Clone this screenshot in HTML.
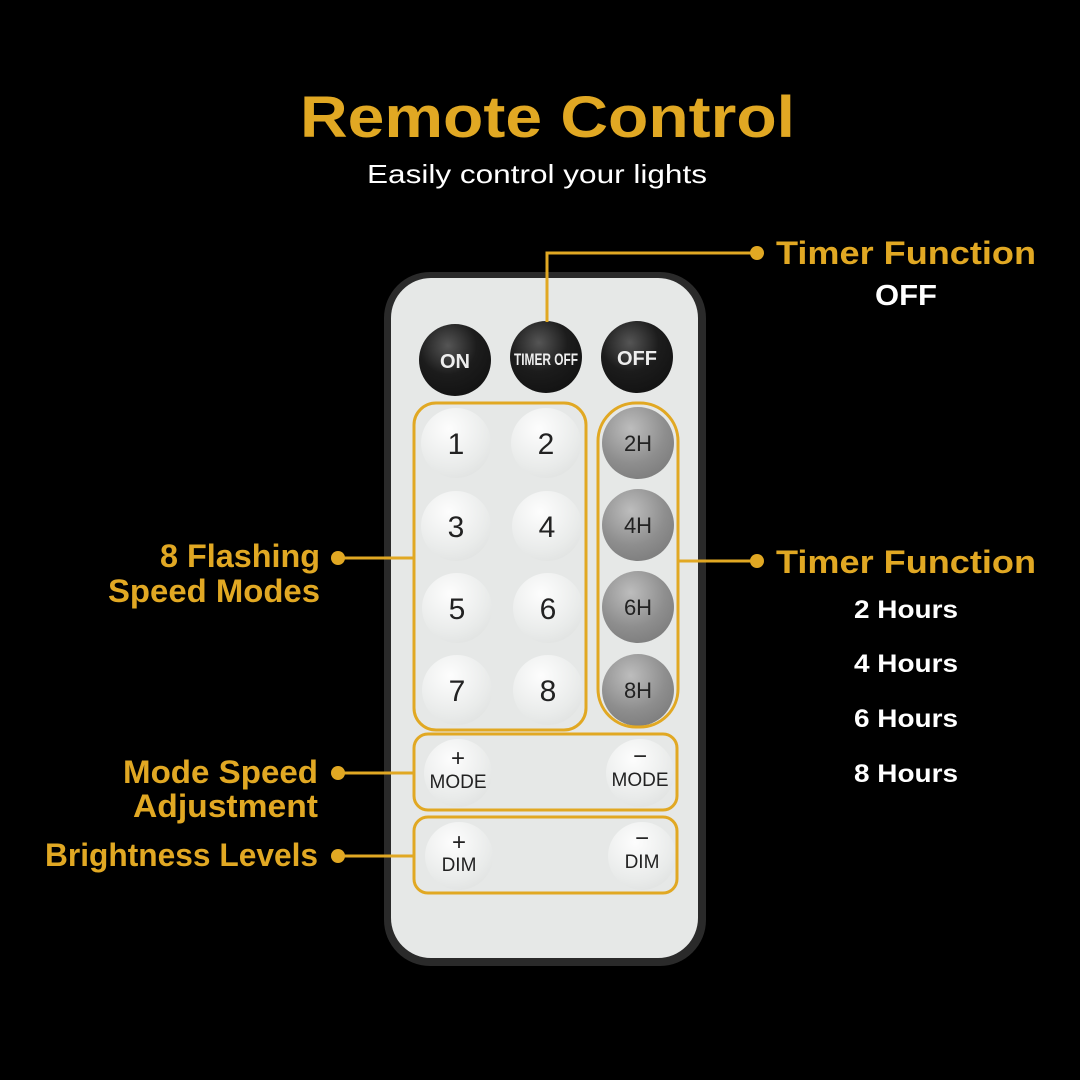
<!DOCTYPE html>
<html><head><meta charset="utf-8"><style>
html,body{margin:0;padding:0;background:#000;width:1080px;height:1080px;overflow:hidden}
svg{display:block}
</style></head><body>
<svg width="1080" height="1080" viewBox="0 0 1080 1080" xmlns="http://www.w3.org/2000/svg" font-family="Liberation Sans, sans-serif">
<defs>
<radialGradient id="dk" cx="0.4" cy="0.3" r="0.8"><stop offset="0" stop-color="#555"/><stop offset="0.5" stop-color="#1c1c1c"/><stop offset="1" stop-color="#111"/></radialGradient>
<radialGradient id="gr" cx="0.4" cy="0.3" r="0.8"><stop offset="0" stop-color="#bdbdbd"/><stop offset="0.6" stop-color="#8e8e8e"/><stop offset="1" stop-color="#7a7a7a"/></radialGradient>
<radialGradient id="wh" cx="0.4" cy="0.3" r="0.8"><stop offset="0" stop-color="#fdfdfd"/><stop offset="0.7" stop-color="#e9ebea"/><stop offset="1" stop-color="#dfe1e0"/></radialGradient>
</defs>
<rect width="1080" height="1080" fill="#000"/>
<text x="300" y="137" font-size="58" font-weight="bold" fill="#e1a823" textLength="495" lengthAdjust="spacingAndGlyphs">Remote Control</text>
<text x="367" y="183" font-size="26" fill="#fff" textLength="340" lengthAdjust="spacingAndGlyphs">Easily control your lights</text>
<!-- remote -->
<rect x="384" y="272" width="322" height="694" rx="46" fill="#2a2a2a"/>
<rect x="391" y="278" width="307" height="680" rx="40" fill="#e6e8e7"/>
<g font-weight="bold" text-anchor="middle">
<circle cx="455" cy="360" r="36" fill="url(#dk)"/><text x="455" y="368" font-size="20" fill="#eee">ON</text>
<circle cx="546" cy="357" r="36" fill="url(#dk)"/><text x="546" y="365" font-size="17" fill="#eee" textLength="64" lengthAdjust="spacingAndGlyphs">TIMER OFF</text>
<circle cx="637" cy="357" r="36" fill="url(#dk)"/><text x="637" y="365" font-size="20" fill="#eee">OFF</text>
</g>
<g font-size="30" text-anchor="middle" fill="#222">
<circle cx="456" cy="443" r="35" fill="url(#wh)"/><text x="456" y="454">1</text>
<circle cx="546" cy="443" r="35" fill="url(#wh)"/><text x="546" y="454">2</text>
<circle cx="456" cy="526" r="35" fill="url(#wh)"/><text x="456" y="537">3</text>
<circle cx="547" cy="526" r="35" fill="url(#wh)"/><text x="547" y="537">4</text>
<circle cx="457" cy="608" r="35" fill="url(#wh)"/><text x="457" y="619">5</text>
<circle cx="548" cy="608" r="35" fill="url(#wh)"/><text x="548" y="619">6</text>
<circle cx="457" cy="690" r="35" fill="url(#wh)"/><text x="457" y="701">7</text>
<circle cx="548" cy="690" r="35" fill="url(#wh)"/><text x="548" y="701">8</text>
</g>
<g font-size="22" text-anchor="middle" fill="#222">
<circle cx="638" cy="443" r="36" fill="url(#gr)"/><text x="638" y="451">2H</text>
<circle cx="638" cy="525" r="36" fill="url(#gr)"/><text x="638" y="533">4H</text>
<circle cx="638" cy="607" r="36" fill="url(#gr)"/><text x="638" y="615">6H</text>
<circle cx="638" cy="690" r="36" fill="url(#gr)"/><text x="638" y="698">8H</text>
</g>
<g font-size="19" text-anchor="middle" fill="#222">
<circle cx="458" cy="773" r="34" fill="url(#wh)"/><text x="458" y="766" font-size="24">+</text><text x="458" y="788">MODE</text>
<circle cx="640" cy="773" r="34" fill="url(#wh)"/><text x="640" y="764" font-size="24">−</text><text x="640" y="786">MODE</text>
<circle cx="459" cy="856" r="34" fill="url(#wh)"/><text x="459" y="850" font-size="24">+</text><text x="459" y="871">DIM</text>
<circle cx="642" cy="856" r="34" fill="url(#wh)"/><text x="642" y="846" font-size="24">−</text><text x="642" y="868">DIM</text>
</g>
<g fill="none" stroke="#e1a823" stroke-width="3">
<rect x="414" y="403" width="172" height="327" rx="22"/>
<rect x="598" y="403" width="80" height="324" rx="38"/>
<rect x="414" y="734" width="263" height="76" rx="14"/>
<rect x="414" y="817" width="263" height="76" rx="14"/>
<polyline points="547,322 547,253 757,253"/>
<line x1="678" y1="561" x2="757" y2="561"/>
<line x1="338" y1="558" x2="414" y2="558"/>
<line x1="338" y1="773" x2="414" y2="773"/>
<line x1="338" y1="856" x2="414" y2="856"/>
</g>
<g fill="#e1a823">
<circle cx="757" cy="253" r="7"/><circle cx="757" cy="561" r="7"/>
<circle cx="338" cy="558" r="7"/><circle cx="338" cy="773" r="7"/><circle cx="338" cy="856" r="7"/>
</g>
<g font-weight="bold" font-size="32" fill="#e1a823" lengthAdjust="spacingAndGlyphs">
<text x="776" y="264" textLength="260" lengthAdjust="spacingAndGlyphs">Timer Function</text>
<text x="776" y="573" textLength="260" lengthAdjust="spacingAndGlyphs">Timer Function</text>
<text x="160" y="567" textLength="160" lengthAdjust="spacingAndGlyphs">8 Flashing</text>
<text x="108" y="602" textLength="212" lengthAdjust="spacingAndGlyphs">Speed Modes</text>
<text x="123" y="783" textLength="195" lengthAdjust="spacingAndGlyphs">Mode Speed</text>
<text x="133" y="817" textLength="185" lengthAdjust="spacingAndGlyphs">Adjustment</text>
<text x="45" y="866" textLength="273" lengthAdjust="spacingAndGlyphs">Brightness Levels</text>
</g>
<g font-weight="bold" fill="#fff">
<text x="875" y="305" font-size="29" textLength="62" lengthAdjust="spacingAndGlyphs">OFF</text>
<text x="854" y="618" font-size="25" textLength="104" lengthAdjust="spacingAndGlyphs">2 Hours</text>
<text x="854" y="672" font-size="25" textLength="104" lengthAdjust="spacingAndGlyphs">4 Hours</text>
<text x="854" y="727" font-size="25" textLength="104" lengthAdjust="spacingAndGlyphs">6 Hours</text>
<text x="854" y="782" font-size="25" textLength="104" lengthAdjust="spacingAndGlyphs">8 Hours</text>
</g>
</svg>
</body></html>
